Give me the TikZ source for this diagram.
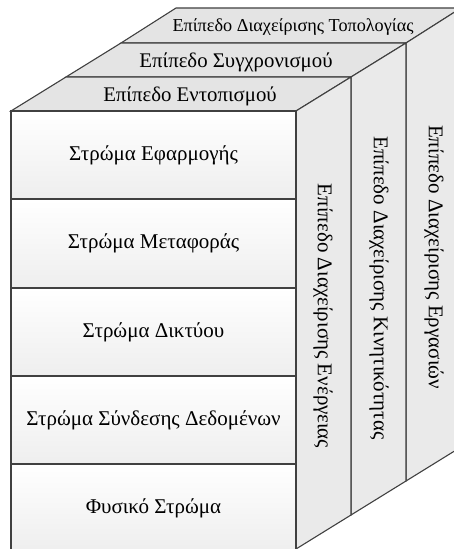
\documentclass[tikz,border=0pt]{standalone}
\usepackage{fontspec}
\setmainfont{Liberation Serif}
\definecolor{linec}{HTML}{404040}
\definecolor{topc}{HTML}{E4E4E4}
\definecolor{sidec}{HTML}{EAEAEA}
\definecolor{rowbot}{HTML}{EEEEEE}
\begin{document}
\begin{tikzpicture}[x=1bp,y=-1bp,
  edge/.style={draw=linec, line width=1.1bp, line join=miter},
  topface/.style={edge, fill=topc},
  sideface/.style={edge, fill=sidec},
  rowbox/.style={edge, rectangle, inner sep=0pt, outer sep=0pt,
    minimum width=285bp, minimum height=88bp, top color=white, bottom color=rowbot,
    font=\fontsize{21bp}{24bp}\selectfont},
  toptext/.style={inner sep=0pt, font=\fontsize{20.8bp}{24bp}\selectfont},
  smalltext/.style={inner sep=0pt, font=\fontsize{18.2bp}{21bp}\selectfont},
  sidetext/.style={inner sep=0pt, rotate=-90, font=\fontsize{21bp}{24bp}\selectfont}]
\useasboundingbox (0,0) rectangle (454,549);
\clip (0,0) rectangle (454,549);
% top slabs
\path[topface] (121,43) -- (406,43) -- (461,8) -- (176,8) -- cycle;
\path[topface] (66,77) -- (351,77) -- (406,43) -- (121,43) -- cycle;
\path[topface] (11,111) -- (296,111) -- (351,77) -- (66,77) -- cycle;
% side faces
\path[sideface] (406,43) -- (461,8) -- (461,447) -- (406,481) -- cycle;
\path[sideface] (351,77) -- (406,43) -- (406,481) -- (351,515) -- cycle;
\path[sideface] (296,111) -- (351,77) -- (351,515) -- (296,549) -- cycle;
% front rows
\node[rowbox] (r1) at (153.5,155) {Στρώμα Εφαρμογής};
\node[rowbox] (r2) at (153.5,243.5) {Στρώμα Μεταφοράς};
\node[rowbox] (r3) at (153.5,332) {Στρώμα Δικτύου};
\node[rowbox] (r4) at (153.5,420) {Στρώμα Σύνδεσης Δεδομένων};
\node[rowbox] (r5) at (153.5,508) {Φυσικό Στρώμα};
% top labels
\node[toptext] (t1) at (190,96) {Επίπεδο Εντοπισμού};
\node[toptext] (t2) at (236,62) {Επίπεδο Συγχρονισμού};
\node[smalltext] (t3) at (293,27) {Επίπεδο Διαχείρισης Τοπολογίας};
% side labels
\node[sidetext] (s1) at (323,316) {Επίπεδο Διαχείρισης Ενέργειας};
\node[sidetext] (s2) at (379,288) {Επίπεδο Διαχείρισης Κινητικότητας};
\node[sidetext] (s3) at (434,257) {Επίπεδο Διαχείρισης Εργασιών};
\end{tikzpicture}
\end{document}
